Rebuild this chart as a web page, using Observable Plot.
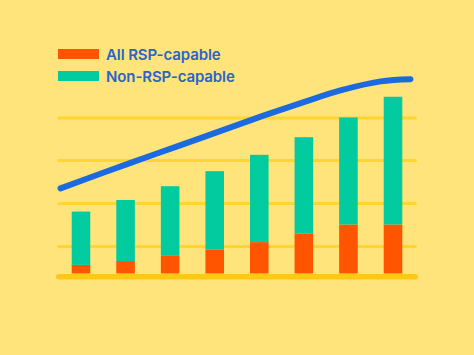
<!DOCTYPE html>
<html>
<head>
<meta charset="utf-8">
<script src="https://cdn.jsdelivr.net/npm/d3@7"></script>
<script src="https://cdn.jsdelivr.net/npm/@observablehq/plot@0.6"></script>
<style>
  html, body { margin: 0; padding: 0; background: #FEE47B; }
  #wrap { position: relative; width: 474px; height: 355px; overflow: hidden; }
  #wrap svg { display: block; }
  .legend { position: absolute; left: 58px; top: 43px; font-family: Inter, "Open Sans", sans-serif;
            font-weight: 600; font-size: 15px; color: #2A63CC; letter-spacing: -0.1px; }
  .item { display: flex; align-items: center; height: 22px; white-space: nowrap; }
  .sw { width: 41px; height: 10.5px; margin-right: 7px; flex: none; }
</style>
</head>
<body>
<div id="wrap"></div>
<script>
// ---- data ----
const categories = ["1", "2", "3", "4", "5", "6", "7", "8"];
const seriesNames = ["All RSP-capable", "Non-RSP-capable"];
const rspCapable    = [2.0, 2.9, 4.1, 5.6, 7.3, 9.3, 11.4, 11.4];
const nonRspCapable = [12.4, 14.2, 16.2, 18.2, 20.3, 22.4, 24.9, 29.7];
const gridValues = [6.4, 16.4, 26.4, 36.3];
const trendX = [0.03, 1.0, 2.16, 3.17, 4.41, 5.52, 6.31, 7.21, 7.88];
const trendY = [19.9, 23.6, 27.9, 31.6, 36.2, 40.1, 42.7, 44.8, 45.3];

const colors = ["#FF5500", "#02CC9F"];

const bars = [];
categories.forEach((c, i) => {
  bars.push({cat: c, pos: i, series: seriesNames[0], value: rspCapable[i]});
  bars.push({cat: c, pos: i, series: seriesNames[1], value: nonRspCapable[i]});
});
const trend = trendX.map((x, i) => ({x, y: trendY[i]}));

const chart = Plot.plot({
  width: 474,
  height: 355,
  marginLeft: 58.7,
  marginRight: 58.7,
  marginTop: 15.5,
  marginBottom: 81.5,
  x: {domain: [0, categories.length], axis: null},
  y: {domain: [0, 60], axis: null},
  color: {domain: seriesNames, range: colors},
  style: {background: "transparent"},
  marks: [
    Plot.ruleY(gridValues, {x1: 0, x2: categories.length, stroke: "#FFD433", strokeWidth: 3, strokeLinecap: "round"}),
    Plot.rectY(bars, {x: "pos", interval: 1, y: "value", fill: "series", insetLeft: 13, insetRight: 13}),
    Plot.ruleY([0], {x1: 0, x2: categories.length, stroke: "#FFC61C", strokeWidth: 5.5, dy: 2.7, strokeLinecap: "round"}),
    Plot.line(trend, {x: "x", y: "y", curve: "catmull-rom", stroke: "#1C6AE0", strokeWidth: 6, strokeLinecap: "round"})
  ]
});

const wrap = document.getElementById("wrap");
wrap.appendChild(chart);

const legend = document.createElement("div");
legend.className = "legend";
seriesNames.forEach((name, i) => {
  const item = document.createElement("div");
  item.className = "item";
  const sw = document.createElement("span");
  sw.className = "sw";
  sw.style.background = colors[i];
  const label = document.createElement("span");
  label.textContent = name;
  item.appendChild(sw);
  item.appendChild(label);
  legend.appendChild(item);
});
wrap.appendChild(legend);
</script>
</body>
</html>
